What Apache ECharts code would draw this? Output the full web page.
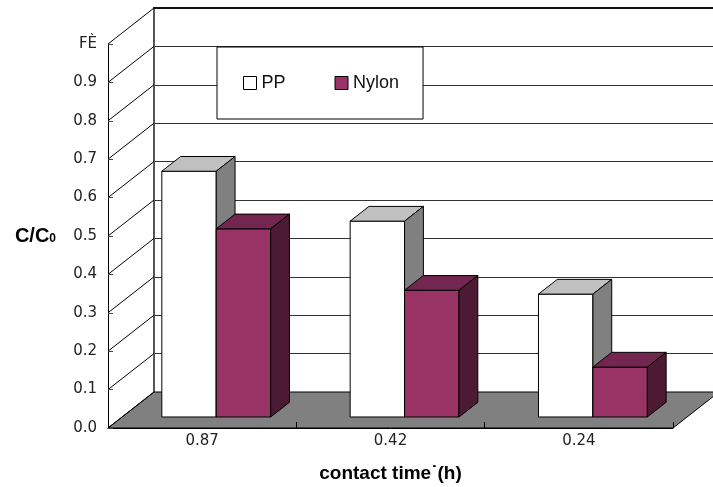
<!DOCTYPE html>
<html>
<head>
<meta charset="utf-8">
<script src="https://cdn.jsdelivr.net/npm/echarts@6/dist/echarts.min.js"></script>
<style>
html,body{margin:0;padding:0;background:#fff;}
#chart{width:713px;height:487px;}
</style>
</head>
<body>
<div id="chart"></div>
<script>
// ---- data ----
const categories = ['0.87', '0.42', '0.24'];
const seriesNames = ['PP', 'Nylon'];
const ppValues = [0.64, 0.51, 0.32];
const nylonValues = [0.49, 0.33, 0.13];
const yTickValues = [0, 0.1, 0.2, 0.3, 0.4, 0.5, 0.6, 0.7, 0.8, 0.9, 1.0];
const yTickLabels = ['0.0', '0.1', '0.2', '0.3', '0.4', '0.5', '0.6', '0.7', '0.8', '0.9', 'FÈ'];
const xAxisTitle = 'contact time˙(h)';

// ---- 3D look (style constants) ----
const DX = 46, DY = 36;          // depth offset of the back wall
const F0 = 0.306, F1 = 0.715;     // bar front / back depth fractions
const BAR_W = 0.289;              // bar width as share of category band
const colorsPP = {front: '#ffffff', top: '#c0c0c0', side: '#808080'};
const colorsNy = {front: '#993366', top: '#732650', side: '#4d1a33'};

function barRenderer(sideIdx, c) {
  return function (params, api) {
    const i = api.value(0), v = api.value(1);
    const base = api.coord([i, 0]);
    const tp = api.coord([i, v]);
    const band = api.size([1, 0])[0];
    const w = band * BAR_W;
    const fx = DX * F0, fy = -DY * F0;
    const bx = DX * (F1 - F0), by = -DY * (F1 - F0);
    const x0 = base[0] + (sideIdx === 0 ? -w : 0) + fx;
    const x1 = x0 + w;
    const yb = base[1] + fy, yt = tp[1] + fy;
    const st = {stroke: '#000', lineWidth: 1};
    return {
      type: 'group',
      children: [
        {type: 'polygon', shape: {points: [[x0, yt], [x1, yt], [x1, yb], [x0, yb]]},
          style: Object.assign({fill: c.front}, st)},
        {type: 'polygon', shape: {points: [[x0, yt], [x1, yt], [x1 + bx, yt + by], [x0 + bx, yt + by]]},
          style: Object.assign({fill: c.top}, st)},
        {type: 'polygon', shape: {points: [[x1, yt], [x1 + bx, yt + by], [x1 + bx, yb + by], [x1, yb]]},
          style: Object.assign({fill: c.side}, st)}
      ]
    };
  };
}

const chart = echarts.init(document.getElementById('chart'), null, {renderer: 'canvas'});
const font = 'DejaVu Sans';

const option = {
  backgroundColor: '#fff',
  animation: false,
  grid: [
    {left: 108, top: 44, width: 565, height: 384, containLabel: false, outerBoundsMode: 'none'},
    {left: 108 + DX, top: 44 - DY, width: 565, height: 384, containLabel: false, outerBoundsMode: 'none'}
  ],
  legend: {
    left: 217, top: 47, orient: 'horizontal',
    itemWidth: 13, itemHeight: 13, itemGap: 49,
    padding: [27, 24, 27, 26],
    backgroundColor: '#fff', borderColor: '#000', borderWidth: 1,
    textStyle: {fontFamily: 'Liberation Sans', fontSize: 18, color: '#111', lineHeight: 18},
    z: 10,
    data: [
      {name: seriesNames[0], icon: 'rect', itemStyle: {color: colorsPP.front, borderColor: '#000', borderWidth: 1}},
      {name: seriesNames[1], icon: 'rect', itemStyle: {color: colorsNy.front, borderColor: '#000', borderWidth: 1}}
    ]
  },
  xAxis: [
    {
      type: 'category', gridIndex: 0, data: categories, z: 5,
      axisLine: {show: true, onZero: false, lineStyle: {color: '#000', width: 1}},
      axisTick: {show: true, inside: true, length: 6, lineStyle: {color: '#000'}},
      axisLabel: {fontFamily: font, fontSize: 15, color: '#222', margin: 6},
      splitLine: {show: false},
      name: xAxisTitle, nameLocation: 'middle', nameGap: 36,
      nameTextStyle: {fontFamily: 'Liberation Sans', fontSize: 19, fontWeight: 'bold', color: '#000'}
    },
    {
      type: 'category', gridIndex: 1, data: categories, position: 'top',
      axisLine: {show: true, onZero: false, lineStyle: {color: '#111', width: 2}},
      axisTick: {show: false}, axisLabel: {show: false}, splitLine: {show: false}
    }
  ],
  yAxis: [
    {
      type: 'value', gridIndex: 0, min: 0, max: 1, interval: 0.1, z: 5,
      axisLine: {show: true, lineStyle: {color: '#000', width: 1}},
      axisTick: {show: true, inside: true, length: 5, lineStyle: {color: '#444'}},
      splitLine: {show: false},
      axisLabel: {
        fontFamily: font, fontSize: 15, color: '#222', margin: 11, showMaxLabel: true,
        formatter: function (val) {
          let best = 0;
          for (let k = 0; k < yTickValues.length; k++) {
            if (Math.abs(yTickValues[k] - val) < Math.abs(yTickValues[best] - val)) best = k;
          }
          return yTickLabels[best];
        }
      },
      name: 'C/C{s|0}', nameLocation: 'middle', nameRotate: 0, nameGap: 52,
      nameTextStyle: {
        fontFamily: 'Liberation Sans', fontSize: 20, fontWeight: 'bold', color: '#000',
        rich: {s: {fontFamily: 'Liberation Sans', fontSize: 12, fontWeight: 'bold', color: '#000', padding: [6, 0, 0, 0]}}
      }
    },
    {
      type: 'value', gridIndex: 1, min: 0, max: 1, interval: 0.1,
      axisLine: {show: true, lineStyle: {color: '#555', width: 2}},
      axisTick: {show: false}, axisLabel: {show: false},
      splitLine: {show: true, lineStyle: {color: '#333', width: 1}}
    }
  ],
  series: [
    {
      type: 'custom', name: '_floor', xAxisIndex: 0, yAxisIndex: 0, z: 1, clip: false, silent: true,
      data: [[0, 0]],
      renderItem: function (params, api) {
        const p = api.coord([0, 0]);
        const band = api.size([1, 0])[0];
        const left = p[0] - band / 2;
        const right = left + band * categories.length;
        const y = p[1];
        return {type: 'polygon',
          shape: {points: [[left, y], [right, y], [right + DX, y - DY], [left + DX, y - DY]]},
          style: {fill: '#808080', stroke: '#000', lineWidth: 1}};
      }
    },
    {
      type: 'custom', name: '_wall', xAxisIndex: 0, yAxisIndex: 0, z: 1, clip: false, silent: true,
      data: yTickValues.map(v => [0, v]),
      renderItem: function (params, api) {
        const p = api.coord([0, api.value(1)]);
        const band = api.size([1, 0])[0];
        const left = p[0] - band / 2;
        return {type: 'line',
          shape: {x1: left, y1: p[1], x2: left + DX, y2: p[1] - DY},
          style: {stroke: '#000', lineWidth: 1}};
      }
    },
    {
      type: 'custom', name: seriesNames[0], xAxisIndex: 0, yAxisIndex: 0, z: 3, clip: false,
      itemStyle: {color: colorsPP.front, borderColor: '#000'},
      data: ppValues.map((v, i) => [i, v]),
      encode: {x: 0, y: 1},
      renderItem: barRenderer(0, colorsPP)
    },
    {
      type: 'custom', name: seriesNames[1], xAxisIndex: 0, yAxisIndex: 0, z: 3, clip: false,
      itemStyle: {color: colorsNy.front, borderColor: '#000'},
      data: nylonValues.map((v, i) => [i, v]),
      encode: {x: 0, y: 1},
      renderItem: barRenderer(1, colorsNy)
    }
  ]
};
chart.setOption(option);
</script>
</body>
</html>
